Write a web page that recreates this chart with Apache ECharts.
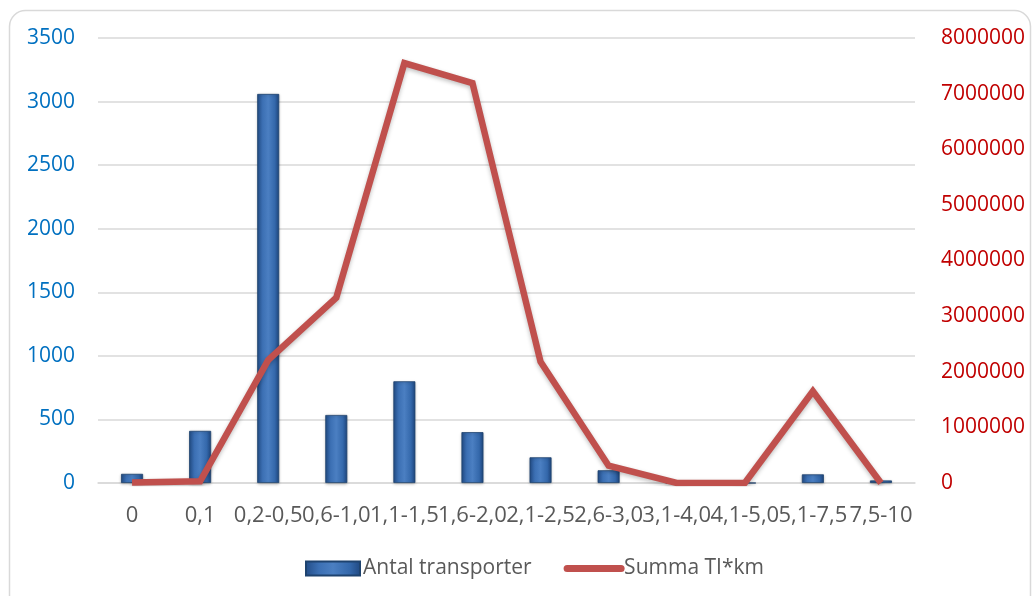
<!DOCTYPE html>
<html>
<head>
<meta charset="utf-8">
<script src="https://cdn.jsdelivr.net/npm/echarts@6/dist/echarts.min.js"></script>
<style>
  html, body { margin: 0; padding: 0; background: #ffffff; }
  #chart { width: 1032px; height: 596px; }
</style>
</head>
<body>
<div id="chart"></div>
<script>
// Distance classes (km)
const categories = ['0', '0,1', '0,2-0,5', '0,6-1,0', '1,1-1,5', '1,6-2,0', '2,1-2,5', '2,6-3,0', '3,1-4,0', '4,1-5,0', '5,1-7,5', '7,5-10'];
// Number of transports per class
const antalTransporter = [72, 410, 3060, 535, 800, 400, 202, 100, 0, 0, 68, 20];
// Sum of tonnes * km per class
const summaTIkm = [10000, 30000, 2210000, 3330000, 7550000, 7190000, 2180000, 310000, 0, 0, 1650000, 0];

const seriesNames = ['Antal transporter', 'Summa TI*km'];
const leftTicks = { min: 0, max: 3500, interval: 500 };
const rightTicks = { min: 0, max: 8000000, interval: 1000000 };

const FONT = '"Open Sans", "Noto Sans", sans-serif';
const chart = echarts.init(document.getElementById('chart'), null, { renderer: 'canvas' });

const plain = v => String(v);

const barFill = new echarts.graphic.LinearGradient(0, 0, 1, 0, [
  { offset: 0, color: '#224C86' },
  { offset: 0.25, color: '#3C70B4' },
  { offset: 0.5, color: '#4B7FC2' },
  { offset: 0.8, color: '#3468AB' },
  { offset: 1, color: '#1F4780' }
]);

chart.setOption({
  backgroundColor: '#ffffff',
  animation: false,
  textStyle: { fontFamily: FONT },
  graphic: [{
    type: 'rect',
    silent: true,
    z: -10,
    shape: { x: 9.5, y: 10.5, width: 1021, height: 620, r: 16 },
    style: { fill: '#ffffff', stroke: '#D9D9D9', lineWidth: 1.5 }
  }],
  grid: { left: 98, right: 117, top: 38, bottom: 113, containLabel: false },
  legend: {
    bottom: 12,
    left: 300,
    itemWidth: 54,
    itemHeight: 14,
    itemGap: 32,
    textStyle: { fontSize: 21, color: '#595959', fontFamily: FONT, padding: [0, 0, 0, -2] },
    data: [
      { name: seriesNames[0], icon: 'rect' },
      { name: seriesNames[1], itemStyle: { opacity: 0 }, lineStyle: { width: 7, cap: 'round' } }
    ]
  },
  xAxis: {
    type: 'category',
    data: categories,
    axisTick: { show: false },
    axisLine: { show: true, lineStyle: { color: '#D9D9D9', width: 1.5 } },
    axisLabel: {
      interval: 0,
      hideOverlap: false,
      margin: 22,
      fontSize: 22,
      color: '#595959',
      fontFamily: FONT
    }
  },
  yAxis: [{
    type: 'value',
    position: 'left',
    min: leftTicks.min,
    max: leftTicks.max,
    interval: leftTicks.interval,
    axisLine: { show: false },
    axisTick: { show: false },
    splitLine: { show: true, lineStyle: { color: '#D9D9D9', width: 1.5 } },
    axisLabel: { margin: 23, fontSize: 21, color: '#0070C0', fontFamily: FONT, formatter: plain }
  }, {
    type: 'value',
    position: 'right',
    min: rightTicks.min,
    max: rightTicks.max,
    interval: rightTicks.interval,
    axisLine: { show: false },
    axisTick: { show: false },
    splitLine: { show: false },
    axisLabel: { margin: 26, fontSize: 21, color: '#C00000', fontFamily: FONT, formatter: plain }
  }],
  series: [{
    name: seriesNames[0],
    type: 'bar',
    yAxisIndex: 0,
    data: antalTransporter,
    barWidth: 22,
    itemStyle: {
      color: barFill,
      borderColor: '#1E436F',
      borderWidth: 0.8,
      shadowColor: 'rgba(0,0,0,0.25)',
      shadowBlur: 3,
      shadowOffsetY: 1
    },
    z: 2
  }, {
    name: seriesNames[1],
    type: 'line',
    yAxisIndex: 1,
    data: summaTIkm,
    symbol: 'none',
    lineStyle: {
      color: '#C0504D',
      width: 6.5,
      join: 'miter',
      shadowColor: 'rgba(0,0,0,0.25)',
      shadowBlur: 4,
      shadowOffsetY: 2
    },
    itemStyle: { color: '#C0504D' },
    z: 3
  }]
});
</script>
</body>
</html>
